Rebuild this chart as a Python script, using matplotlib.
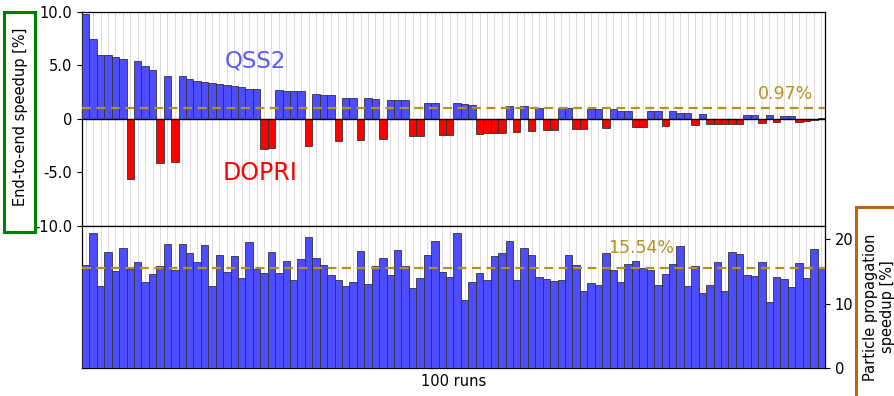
import matplotlib
matplotlib.use("Agg")
import matplotlib.pyplot as plt
from matplotlib.patches import Rectangle
import numpy as np

# ---------------- data ----------------
end_to_end = [9.85, 7.5, 5.94, 5.94, 5.78, 5.62, -5.6, 5.37, 4.94, 4.6,
              -4.16, 4.0, -4.03, 4.0, 3.75, 3.5, 3.44, 3.4, 3.25, 3.16,
              3.06, 2.97, 2.81, 2.81, -2.81, -2.69, 2.66, 2.63, 2.56, 2.56,
              -2.5, 2.28, 2.19, 2.19, -2.09, 1.97, 1.94, -1.97, 1.97, 1.88,
              -1.88, 1.78, 1.78, 1.78, -1.63, -1.63, 1.53, 1.53, -1.53, -1.53,
              1.44, 1.41, 1.34, -1.38, -1.34, -1.31, -1.31, 1.16, -1.22, 1.16,
              -1.16, 1.03, -1.03, -1.03, 1.0, 1.0, -0.94, -0.94, 0.88, 0.88,
              -0.84, 0.88, 0.75, 0.75, -0.78, -0.78, 0.69, 0.69, -0.69, 0.69,
              0.59, 0.59, -0.53, 0.47, -0.5, -0.5, -0.5, -0.44, -0.44, 0.34,
              0.34, -0.38, 0.34, -0.28, 0.25, 0.25, -0.25, -0.22, -0.1, 0.05]

particle = [16.0, 21.0, 12.76, 18.1, 15.1, 18.6, 15.4, 16.4, 13.4, 14.6,
            15.8, 19.3, 15.2, 19.3, 17.9, 16.5, 19.1, 12.8, 17.5, 14.9,
            17.4, 14.0, 19.6, 15.4, 14.8, 18.1, 14.7, 16.7, 13.7, 16.9,
            20.4, 17.05, 16.0, 14.4, 13.7, 12.76, 13.4, 18.2, 13.0, 15.8,
            17.05, 14.5, 18.3, 15.8, 12.45, 14.0, 17.5, 19.7, 14.9, 14.2,
            21.0, 10.6, 13.4, 14.7, 13.7, 17.4, 17.8, 19.8, 13.7, 18.65,
            17.5, 14.2, 13.85, 13.6, 13.7, 17.5, 16.0, 12.0, 13.2, 12.9,
            17.8, 15.2, 13.4, 16.1, 16.6, 15.5, 15.25, 12.9, 14.6, 16.2,
            19.0, 12.76, 15.8, 11.7, 12.9, 16.5, 12.0, 18.1, 17.7, 14.4,
            14.3, 16.5, 10.2, 14.1, 13.85, 12.6, 16.3, 14.0, 18.5, 15.5]

mean_end_to_end = 0.97
mean_particle = 15.54

top_ticks = [-10, -5, 0, 5, 10]
top_tick_labels = ["-10.0", "-5.0", "0", "5.0", "10.0"]
bottom_ticks = [0, 10, 20]

# ---------------- style ----------------
BLUE = "#4d4dff"
RED = "#ff0000"
GOLD = "#b8901e"
GRID = "#dcdcdc"
EDGE = "#333333"
FS = 10.5

W, H = 895, 396
fig = plt.figure(figsize=(W / 100, H / 100), dpi=100)

def fx(px):
    return px / W

def fy(py):
    return 1 - py / H

left, right = 82, 825
ax1 = fig.add_axes([fx(left), fy(225.7), fx(right - left), fy(12) - fy(225.7)])
ax2 = fig.add_axes([fx(left), fy(368.3), fx(right - left), fy(225.7) - fy(368.3)])

x = np.arange(len(end_to_end))
vals = np.array(end_to_end)
colors = [BLUE if v >= 0 else RED for v in vals]

# top panel
ax1.bar(x, vals, width=1.0, color=colors, edgecolor=EDGE, linewidth=0.6, zorder=3)
ax1.axhline(0, color="black", linewidth=1.0, zorder=4)
ax1.axhline(mean_end_to_end, color=GOLD, linestyle=(0, (4, 2.5)), linewidth=1.6, zorder=5)
ax1.set_xlim(-0.5, len(x) - 0.5)
ax1.set_ylim(-10, 10)
ax1.set_yticks(top_ticks)
ax1.set_yticklabels(top_tick_labels, fontsize=FS)
ax1.set_xticks(x)
ax1.tick_params(axis="x", bottom=False, labelbottom=False, length=0)
ax1.grid(axis="x", color=GRID, linewidth=0.8, zorder=0)
ax1.text(22.9, 5.46, "QSS2", color="#5a5af5", fontsize=16.5, ha="center", va="center")
ax1.text(23.5, -5.03, "DOPRI", color=RED, fontsize=17, ha="center", va="center")
ax1.text(94.25, 2.28, f"{mean_end_to_end:.2f}%", color=GOLD, fontsize=12.5,
         ha="center", va="center")

# bottom panel
ax2.bar(x, particle, width=1.0, color=BLUE, edgecolor=EDGE, linewidth=0.6, zorder=3)
ax2.axhline(mean_particle, color=GOLD, linestyle=(0, (4, 2.5)), linewidth=1.6, zorder=5)
ax2.set_xlim(-0.5, len(x) - 0.5)
ax2.set_ylim(0, 22.1)
ax2.yaxis.tick_right()
ax2.set_yticks(bottom_ticks)
ax2.tick_params(axis="y", labelsize=FS)
ax2.set_xticks(x)
ax2.tick_params(axis="x", bottom=False, labelbottom=False, length=0)
ax2.grid(axis="x", color=GRID, linewidth=0.8, zorder=0)
ax2.text(74.8, 18.6, f"{mean_particle:.2f}%", color=GOLD, fontsize=12.5,
         ha="center", va="center")
ax2.set_xlabel("100 runs", fontsize=FS, labelpad=4)

for ax in (ax1, ax2):
    for s in ax.spines.values():
        s.set_color("black")
        s.set_linewidth(0.9)

# y labels with coloured boxes
fig.text(fx(21), fy(117), "End-to-end speedup [%]", rotation=90, fontsize=FS,
         ha="center", va="center")
fig.patches.append(Rectangle((fx(4), fy(232)), fx(31), fy(12) - fy(232),
                             transform=fig.transFigure, fill=False,
                             edgecolor="green", linewidth=2.2))

fig.text(fx(879), fy(307), "Particle propagation\nspeedup [%]", rotation=90,
         fontsize=FS, ha="center", va="center", multialignment="center")
fig.patches.append(Rectangle((fx(856), fy(420)), fx(60), fy(207) - fy(420),
                             transform=fig.transFigure, fill=False,
                             edgecolor="#c0650f", linewidth=2.2))

fig.savefig("out.png", dpi=100)
